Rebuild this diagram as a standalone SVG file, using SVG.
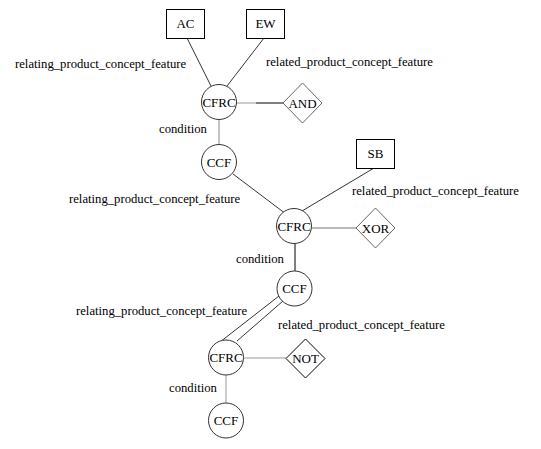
<svg xmlns="http://www.w3.org/2000/svg" width="541" height="449" viewBox="0 0 541 449">
<style>
text{font-family:"Liberation Serif","Times New Roman",serif;fill:#000}
.n{font-size:13px;text-anchor:middle}
.l{font-size:12.7px}
.box{fill:#fff;stroke:#000;stroke-width:1}
.c{fill:#fff;stroke:#333;stroke-width:1}
.d{fill:#fff;stroke:#666;stroke-width:1}
#edges line{stroke-width:1;fill:none}
</style>
<rect width="541" height="449" fill="#fff"/>
<g id="edges">
<line x1="187" y1="38" x2="211" y2="86" stroke="#333"/>
<line x1="264" y1="38" x2="227" y2="86" stroke="#333"/>
<line x1="237" y1="103" x2="256" y2="103" stroke="#999"/>
<line x1="256" y1="103" x2="283" y2="103" stroke="#000"/>
<line x1="219" y1="120" x2="219" y2="144" stroke="#888"/>
<line x1="233" y1="174" x2="286" y2="214" stroke="#333"/>
<line x1="374" y1="168" x2="302" y2="211" stroke="#333"/>
<line x1="312" y1="228" x2="356" y2="228" stroke="#777"/>
<line x1="295" y1="244" x2="295" y2="271" stroke="#000"/>
<line x1="279" y1="296" x2="220" y2="342" stroke="#333"/>
<line x1="283" y1="301" x2="237" y2="341" stroke="#333"/>
<line x1="243" y1="358" x2="286" y2="358" stroke="#999"/>
<line x1="226" y1="375" x2="226" y2="403" stroke="#999"/>
</g>
<g id="AC"><rect class="box" x="166.5" y="9.5" width="38" height="29"/><text class="n" x="185.5" y="28">AC</text></g>
<g id="EW"><rect class="box" x="246.5" y="9.5" width="38" height="29"/><text class="n" x="265.5" y="28">EW</text></g>
<g id="CFRC1"><circle class="c" cx="219" cy="102" r="17.5"/><text class="n" x="219" y="106.5">CFRC</text></g>
<g id="AND"><polygon class="d" points="302.5,83 322,103 302.5,123 283,103"/><text class="n" x="302.5" y="107.5">AND</text></g>
<g id="CCF1"><circle class="c" cx="219" cy="162" r="17.5"/><text class="n" x="219" y="166.5">CCF</text></g>
<g id="SB"><rect class="box" x="356.5" y="139.5" width="38" height="29"/><text class="n" x="375.5" y="158">SB</text></g>
<g id="CFRC2"><circle class="c" cx="294" cy="226" r="17.5" stroke="#777"/><text class="n" x="294" y="230.5">CFRC</text></g>
<g id="XOR"><polygon class="d" points="375.5,208 395,228 375.5,248 356,228"/><text class="n" x="375.5" y="232.5">XOR</text></g>
<g id="CCF2"><circle class="c" cx="294.5" cy="288.5" r="17.5"/><text class="n" x="294.5" y="293">CCF</text></g>
<g id="CFRC3"><circle class="c" cx="226" cy="357.5" r="17.5"/><text class="n" x="226" y="362">CFRC</text></g>
<g id="NOT"><polygon class="d" points="305.5,339 325,358.5 305.5,378 286,358.5" style="stroke:#000"/><text class="n" x="305.5" y="363">NOT</text></g>
<g id="CCF3"><circle class="c" cx="226" cy="420.5" r="17.5"/><text class="n" x="226" y="425">CCF</text></g>
<g id="labels">
<text class="l" x="15" y="68">relating_product_concept_feature</text>
<text class="l" x="266" y="66">related_product_concept_feature</text>
<text class="l" x="159" y="133">condition</text>
<text class="l" x="69" y="203">relating_product_concept_feature</text>
<text class="l" x="352" y="195">related_product_concept_feature</text>
<text class="l" x="236" y="263">condition</text>
<text class="l" x="76" y="315">relating_product_concept_feature</text>
<text class="l" x="278" y="329">related_product_concept_feature</text>
<text class="l" x="169" y="392">condition</text>
</g>
</svg>
